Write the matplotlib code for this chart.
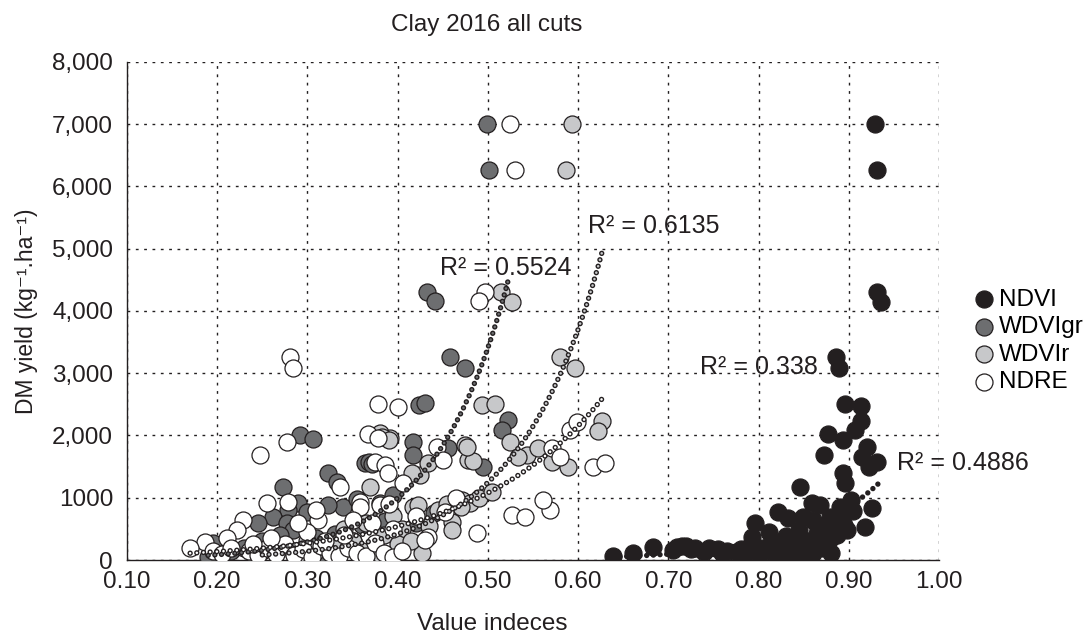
import numpy as np
import matplotlib
matplotlib.use("Agg")
import matplotlib.pyplot as plt

plt.rcParams['font.family'] = ['Liberation Sans', 'DejaVu Sans']
plt.rcParams['lines.scale_dashes'] = False

# values
ndvi_x = [0.929, 0.931, 0.931, 0.936, 0.886, 0.889, 0.896, 0.913, 0.913, 0.907, 0.877, 0.894,
          0.920, 0.915, 0.931, 0.922, 0.873, 0.894, 0.896, 0.926, 0.918, 0.902, 0.890, 0.846,
          0.859, 0.821, 0.833, 0.796, 0.793, 0.879, 0.898, 0.866, 0.849, 0.639, 0.661, 0.683,
          0.710, 0.720, 0.730, 0.745, 0.755, 0.765, 0.775, 0.785, 0.800, 0.810, 0.820, 0.830,
          0.840, 0.850, 0.860, 0.870, 0.880, 0.855, 0.842, 0.865, 0.875, 0.885, 0.892, 0.905,
          0.860, 0.845, 0.830, 0.815, 0.805, 0.790, 0.780, 0.760, 0.740, 0.725, 0.715, 0.705,
          0.825, 0.835, 0.870, 0.880, 0.872, 0.887, 0.895, 0.852, 0.838, 0.812, 0.868, 0.857]
ndvi_y = [7000, 6270, 4300, 4150, 3260, 3080, 2500, 2470, 2230, 2090, 2020, 1930,
          1810, 1650, 1570, 1490, 1690, 1400, 1240, 840, 530, 960, 850, 1170,
          920, 770, 680, 590, 370, 690, 480, 500, 690, 60, 110, 210,
          210, 230, 200, 190, 170, 150, 130, 110, 100, 140, 90, 120,
          80, 150, 110, 200, 350, 300, 260, 420, 560, 620, 700, 780,
          640, 480, 380, 300, 200, 230, 170, 110, 130, 180, 220, 160,
          210, 330, 260, 120, 450, 400, 560, 90, 170, 450, 880, 60]

wdvigr_x = [0.499, 0.501, 0.433, 0.441, 0.458, 0.475, 0.424, 0.430, 0.522, 0.516, 0.292, 0.306,
            0.323, 0.333, 0.273, 0.364, 0.368, 0.372, 0.417, 0.417, 0.456, 0.495, 0.339, 0.323,
            0.290, 0.278, 0.300, 0.262, 0.277, 0.284, 0.245, 0.380, 0.387, 0.360, 0.190, 0.195,
            0.215, 0.230, 0.250, 0.265, 0.310, 0.330, 0.350, 0.375, 0.400, 0.420, 0.440, 0.470,
            0.395, 0.355, 0.240, 0.300, 0.320, 0.270]
wdvigr_y = [7000, 6270, 4300, 4160, 3260, 3080, 2490, 2520, 2250, 2090, 2010, 1940,
            1400, 1250, 1170, 1560, 1570, 1540, 1900, 1690, 1800, 1490, 850, 880,
            920, 800, 770, 690, 590, 480, 590, 920, 650, 560, 50, 270,
            150, 200, 300, 220, 350, 420, 300, 250, 400, 600, 750, 950,
            1050, 980, 100, 150, 80, 400]

wdvir_x = [0.593, 0.587, 0.514, 0.527, 0.580, 0.597, 0.494, 0.508, 0.627, 0.622, 0.525, 0.475,
           0.392, 0.380, 0.543, 0.533, 0.556, 0.571, 0.589, 0.478, 0.484, 0.477, 0.460, 0.471,
           0.480, 0.427, 0.417, 0.425, 0.434, 0.416, 0.383, 0.390, 0.369, 0.422, 0.460, 0.445,
           0.455, 0.395, 0.405, 0.385, 0.365, 0.350, 0.340, 0.330, 0.310, 0.300, 0.290, 0.270,
           0.250, 0.380, 0.360, 0.400, 0.415, 0.435, 0.470, 0.490, 0.505]
wdvir_y = [7000, 6270, 4300, 4140, 3260, 3080, 2490, 2500, 2230, 2070, 1900, 1850,
           1960, 2040, 1690, 1650, 1800, 1570, 1490, 1610, 1590, 1820, 610, 960,
           920, 110, 850, 1370, 1560, 1400, 1980, 1930, 1170, 880, 480, 800,
           900, 700, 500, 400, 600, 300, 500, 200, 150, 300, 100, 200,
           150, 100, 150, 250, 300, 550, 850, 1000, 1100]

ndre_x = [0.525, 0.530, 0.497, 0.490, 0.281, 0.284, 0.378, 0.400, 0.247, 0.277, 0.367, 0.378,
          0.375, 0.386, 0.389, 0.336, 0.444, 0.450, 0.406, 0.255, 0.279, 0.312, 0.358, 0.229,
          0.222, 0.211, 0.186, 0.170, 0.434, 0.488, 0.527, 0.541, 0.569, 0.561, 0.616, 0.630,
          0.591, 0.599, 0.571, 0.580, 0.453, 0.372, 0.380, 0.358, 0.195, 0.205, 0.215, 0.235,
          0.245, 0.255, 0.265, 0.275, 0.285, 0.295, 0.305, 0.315, 0.325, 0.335, 0.345, 0.355,
          0.365, 0.375, 0.385, 0.395, 0.405, 0.300, 0.320, 0.340, 0.260, 0.240, 0.290, 0.310,
          0.350, 0.395, 0.420, 0.430, 0.390, 0.465]
ndre_y = [7000, 6270, 4300, 4160, 3260, 3080, 2500, 2460, 1690, 1900, 2020, 1960,
          1570, 1530, 1400, 1170, 1810, 1610, 1240, 920, 930, 640, 930, 640,
          480, 350, 290, 190, 370, 430, 720, 690, 800, 960, 1490, 1560,
          2090, 2220, 1800, 1650, 770, 590, 880, 850, 150, 100, 200, 150,
          80, 200, 100, 250, 80, 180, 50, 220, 120, 60, 200, 110,
          60, 280, 120, 50, 150, 450, 300, 400, 350, 250, 600, 800,
          650, 500, 700, 320, 900, 1000]

# exponential trendlines y = a*exp(b*x) and R2 labels
trend_names = ['NDVI', 'WDVIgr', 'WDVIr', 'NDRE']
trend_a = [0.0429, 7.27, 5.35, 33.7]
trend_b = [11.0, 12.3, 10.9, 6.93]
trend_r2 = ['0.4886', '0.5524', '0.6135', '0.338']
label_x = [0.953, 0.447, 0.611, 0.735]
label_y = [1560, 4690, 5365, 3100]

edge = '#231f20'
fills = ['#231f20', '#6d6e70', '#c7c8ca', '#ffffff']

fig = plt.figure(figsize=(10.89, 6.34), dpi=100)
ax = fig.add_axes([0.1166, 0.1167, 0.7457, 0.7856])

series = [(ndvi_x, ndvi_y), (wdvigr_x, wdvigr_y), (wdvir_x, wdvir_y), (ndre_x, ndre_y)]
for (xs, ys), name, fc in zip(series, trend_names, fills):
    ax.scatter(xs, ys, s=150, c=fc, edgecolors=edge, linewidths=0.9, label=name, zorder=3)

for (xs, ys), a, b, fc, r2, lx, ly in zip(series, trend_a, trend_b, fills, trend_r2, label_x, label_y):
    xx = np.linspace(min(xs), max(xs), 200)
    yy = a * np.exp(b * xx)
    ax.plot(xx, yy, color=edge, lw=3.9, ls=(0, (0.01, 4.8)), dash_capstyle='round', zorder=4)
    if fc != edge:
        ax.plot(xx, yy, color=fc, lw=1.9, ls=(0, (0.01, 4.8)), dash_capstyle='round', zorder=5)
    ax.text(lx, ly, 'R² = ' + r2, fontsize=18, va='center', ha='left', color=edge, zorder=6)

ax.set_xlim(0.1, 1.0)
ax.set_ylim(0, 8000)
xticks = [0.1, 0.2, 0.3, 0.4, 0.5, 0.6, 0.7, 0.8, 0.9, 1.0]
xtick_labels = ['0.10', '0.20', '0.30', '0.40', '0.50', '0.60', '0.70', '0.80', '0.90', '1.00']
yticks = [0, 1000, 2000, 3000, 4000, 5000, 6000, 7000, 8000]
ytick_labels = ['0', '1000', '2,000', '3,000', '4,000', '5,000', '6,000', '7,000', '8,000']
ax.set_xticks(xticks)
ax.set_xticklabels(xtick_labels)
ax.set_yticks(yticks)
ax.set_yticklabels(ytick_labels)
ax.tick_params(length=0, labelsize=17.5, colors=edge)
ax.tick_params(axis='x', pad=8)
ax.tick_params(axis='y', pad=10)
ax.grid(True, color=edge, ls=(0, (2, 4)), lw=1.0)
for s in ['top', 'right']:
    ax.spines[s].set_visible(False)
for s in ['left', 'bottom']:
    ax.spines[s].set_color(edge)
    ax.spines[s].set_linewidth(1.0)
    ax.spines[s].set_zorder(2)
ax.set_axisbelow(True)

ax.set_title('Clay 2016 all cuts', fontsize=17.5, color=edge, pad=22, x=0.443)
ax.set_xlabel('Value indeces', fontsize=17.5, color=edge, labelpad=14, x=0.45)
ax.set_ylabel('DM yield (kg⁻¹.ha⁻¹)', fontsize=16.5, color=edge, labelpad=10)

leg = ax.legend(loc='center left', bbox_to_anchor=(1.02, 0.44), frameon=False, fontsize=17.5,
                handletextpad=-0.2, labelspacing=0.22, handlelength=1.6, borderaxespad=0.0)
fig.savefig('out.png', dpi=100)
